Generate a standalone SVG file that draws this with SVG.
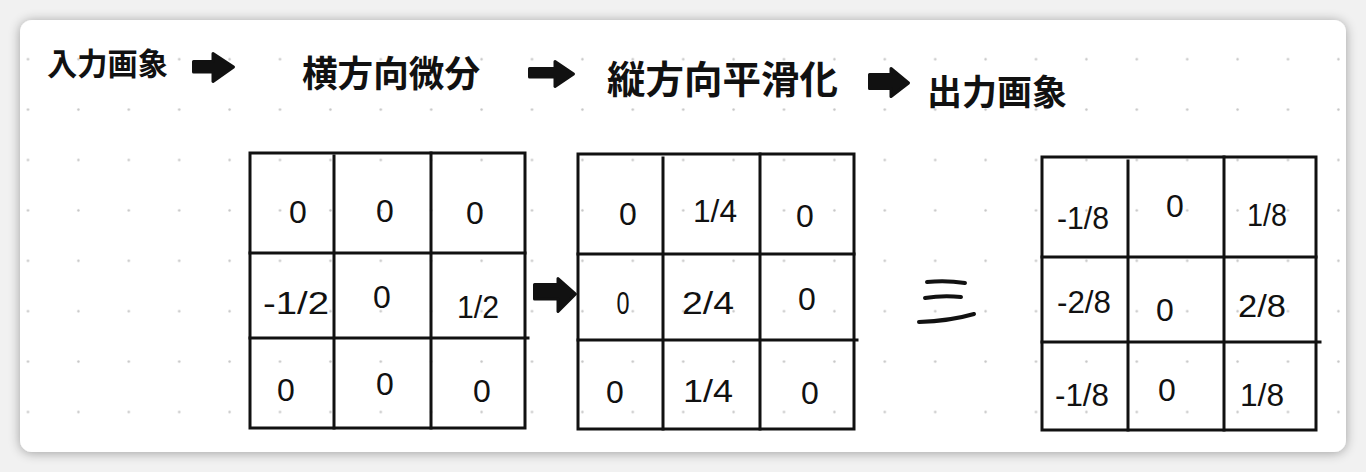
<svg xmlns="http://www.w3.org/2000/svg" xmlns:xlink="http://www.w3.org/1999/xlink" width="1366" height="472" viewBox="0 0 1366 472">
  <defs>
    <filter id="shadow" x="-5%" y="-10%" width="110%" height="120%">
      <feGaussianBlur in="SourceAlpha" stdDeviation="6"/>
      <feOffset dx="0" dy="1" result="b"/>
      <feComponentTransfer><feFuncA type="linear" slope="0.35"/></feComponentTransfer>
      <feMerge><feMergeNode/><feMergeNode in="SourceGraphic"/></feMerge>
    </filter>
    <pattern id="dots" patternUnits="userSpaceOnUse" x="2.8" y="34" width="50.4" height="50.4">
      <circle cx="25.2" cy="25.2" r="1.2" fill="#c4c4c4"/>
    </pattern>
    <clipPath id="cardClip"><rect x="20" y="20" width="1326" height="432" rx="12"/></clipPath>
  </defs>
  <style>
    .grid line { stroke: #111; stroke-width: 3; stroke-linecap: square; }
    .grid rect { fill: none; stroke: #111; stroke-width: 3; }
    .title { font-family: "Noto Sans CJK JP", "Noto Sans CJK SC", sans-serif; font-weight: 700; fill: #111; }
    .num { font-family: "Liberation Sans", "DejaVu Sans", sans-serif; fill: #111; text-anchor: middle; font-size: 32px; }
    .arrow { fill: #111; stroke: #111; stroke-width: 3; stroke-linejoin: round; }
    .eq { stroke: #111; stroke-width: 4; stroke-linecap: round; fill: none; }
  </style>

  <rect width="1366" height="472" fill="#f1f1f1"/>
  <rect x="20" y="20" width="1326" height="432" rx="12" fill="#ffffff" filter="url(#shadow)"/>
  <rect x="20" y="20" width="1326" height="432" fill="url(#dots)" clip-path="url(#cardClip)"/>

  <g id="label-input"><text class="title" x="47" y="75" font-size="31" textLength="121" lengthAdjust="spacingAndGlyphs">入力画象</text></g>
  <g id="label-hdiff"><text class="title" x="302" y="87" font-size="36" textLength="178" lengthAdjust="spacingAndGlyphs">横方向微分</text></g>
  <g id="label-vsmooth"><text class="title" x="607" y="93" font-size="38" textLength="231" lengthAdjust="spacingAndGlyphs">縦方向平滑化</text></g>
  <g id="label-output"><text class="title" x="927" y="105" font-size="35" textLength="140" lengthAdjust="spacingAndGlyphs">出力画象</text></g>

  <g id="connectors">
    <path class="arrow" d="M193.5,61.5 L213,61.5 L213,53.5 L233.5,67 L213,81.5 L213,72 L193.5,72 Z"/>
    <path class="arrow" d="M529.5,68.5 L555,68.5 L555,61.5 L573.5,74 L555,86.5 L555,77 L529.5,77 Z"/>
    <path class="arrow" d="M869.5,74.5 L891,74.5 L891,68.5 L908.5,83 L891,96.5 L891,88.5 L869.5,88.5 Z"/>
    <path class="arrow" d="M534.5,284.5 L558,284.5 L558,278.5 L575.5,294 L558,311.5 L558,299 L534.5,299 Z"/>
  </g>

  <g id="grid-hdiff" class="grid">
    <rect x="250" y="153" width="275" height="275"/>
    <line x1="334" y1="156" x2="334" y2="428"/>
    <line x1="431" y1="153" x2="431" y2="428"/>
    <line x1="250" y1="253" x2="525" y2="253"/>
    <line x1="250" y1="338" x2="528" y2="338"/>
    <text class="num" x="298" y="223" font-size="34">0</text>
    <text class="num" x="385" y="222" font-size="28">0</text>
    <text class="num" x="475" y="224" font-size="34">0</text>
    <text class="num" x="296" y="314" font-size="40" textLength="66" lengthAdjust="spacingAndGlyphs">-1/2</text>
    <text class="num" x="382" y="308" font-size="26">0</text>
    <text class="num" x="478" y="318" font-size="40" textLength="42" lengthAdjust="spacingAndGlyphs">1/2</text>
    <text class="num" x="286" y="401" font-size="40">0</text>
    <text class="num" x="385" y="395" font-size="28">0</text>
    <text class="num" x="482" y="402" font-size="34">0</text>
  </g>

  <g id="grid-vsmooth" class="grid">
    <rect x="578" y="154" width="276" height="275"/>
    <line x1="663" y1="158" x2="663" y2="429"/>
    <line x1="760" y1="154" x2="760" y2="429"/>
    <line x1="578" y1="254" x2="854" y2="254"/>
    <line x1="578" y1="340" x2="857" y2="340"/>
    <text class="num" x="628" y="225">0</text>
    <text class="num" x="715" y="222" font-size="40" textLength="44" lengthAdjust="spacingAndGlyphs">1/4</text>
    <text class="num" x="805" y="227" font-size="30">0</text>
    <text class="num" x="623" y="314" font-size="30" textLength="13" lengthAdjust="spacingAndGlyphs">0</text>
    <text class="num" x="708" y="314" font-size="40" textLength="52" lengthAdjust="spacingAndGlyphs">2/4</text>
    <text class="num" x="807" y="310" font-size="30">0</text>
    <text class="num" x="615" y="403" font-size="38">0</text>
    <text class="num" x="708" y="402" font-size="40" textLength="50" lengthAdjust="spacingAndGlyphs">1/4</text>
    <text class="num" x="810" y="404" font-size="34">0</text>
  </g>

  <g id="equals">
    <path class="eq" d="M927,282 Q946,280 965,283"/>
    <path class="eq" d="M925,298 Q943,295 961,297"/>
    <path class="eq" d="M919,322 Q950,321 974,314"/>
  </g>

  <g id="grid-output" class="grid">
    <rect x="1042" y="157" width="274" height="273"/>
    <line x1="1128" y1="161" x2="1128" y2="430"/>
    <line x1="1224" y1="157" x2="1224" y2="430"/>
    <line x1="1042" y1="257" x2="1316" y2="257"/>
    <line x1="1042" y1="342" x2="1320" y2="342"/>
    <text class="num" x="1083" y="229" font-size="40" textLength="52" lengthAdjust="spacingAndGlyphs">-1/8</text>
    <text class="num" x="1175" y="217" font-size="18">0</text>
    <text class="num" x="1267" y="226" font-size="40" textLength="40" lengthAdjust="spacingAndGlyphs">1/8</text>
    <text class="num" x="1084" y="313" font-size="30" textLength="54" lengthAdjust="spacingAndGlyphs">-2/8</text>
    <text class="num" x="1165" y="321" font-size="40">0</text>
    <text class="num" x="1262" y="317" font-size="38" textLength="48" lengthAdjust="spacingAndGlyphs">2/8</text>
    <text class="num" x="1082" y="406" font-size="36" textLength="54" lengthAdjust="spacingAndGlyphs">-1/8</text>
    <text class="num" x="1167" y="401" font-size="40">0</text>
    <text class="num" x="1262" y="406" font-size="40" textLength="44" lengthAdjust="spacingAndGlyphs">1/8</text>
  </g>
</svg>
